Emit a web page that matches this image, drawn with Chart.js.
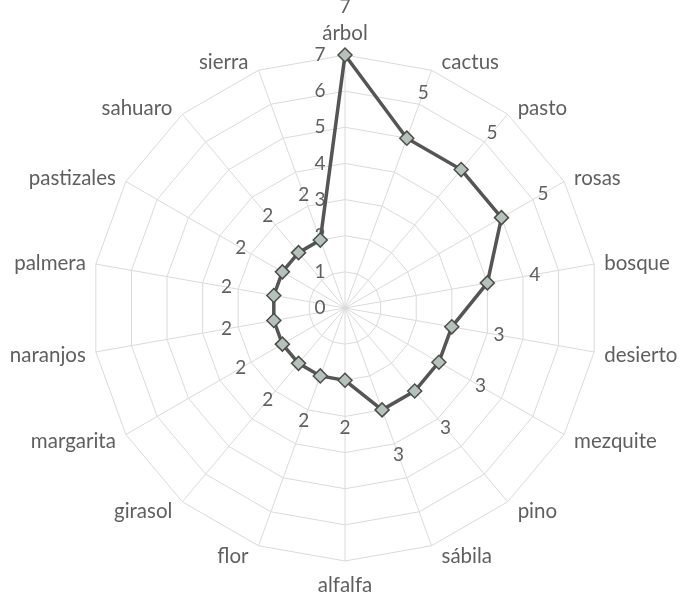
<!DOCTYPE html>
<html>
<head>
<meta charset="utf-8">
<script src="https://cdn.jsdelivr.net/npm/chart.js@4"></script>
<style>
  html, body { margin: 0; padding: 0; background: #fff; }
  #wrap { width: 680px; height: 598px; }
</style>
</head>
<body>
<div id="wrap"><canvas id="chart"></canvas></div>
<script>
const categorias = ['árbol', 'cactus', 'pasto', 'rosas', 'bosque', 'desierto', 'mezquite', 'pino', 'sábila',
  'alfalfa', 'flor', 'girasol', 'margarita', 'naranjos', 'palmera', 'pastizales', 'sahuaro', 'sierra'];
const valores = [7, 5, 5, 5, 4, 3, 3, 3, 3, 2, 2, 2, 2, 2, 2, 2, 2, 2];
const ticks = [0, 1, 2, 3, 4, 5, 6, 7];

const fuente = 'Lato, "Open Sans", sans-serif';
const gris = '#5f5f5f';

// numeros del eje, a la izquierda del eje vertical
const tickLabels = {
  id: 'tickLabels',
  beforeDatasetsDraw(chart) {
    const s = chart.scales.r;
    const ctx = chart.ctx;
    ctx.save();
    ctx.font = '19px ' + fuente;
    ctx.fillStyle = gris;
    ctx.textAlign = 'center';
    ctx.textBaseline = 'middle';
    ticks.forEach(t => {
      const d = s.getDistanceFromCenterForValue(t);
      ctx.fillText(String(t), s.xCenter - 25, s.yCenter - d);
    });
    ctx.restore();
  }
};

// nombres de las categorias, centrados junto al vertice (estilo Excel)
const catLabels = {
  id: 'catLabels',
  beforeDatasetsDraw(chart) {
    const s = chart.scales.r;
    const ctx = chart.ctx;
    ctx.save();
    ctx.font = '20.5px ' + fuente;
    ctx.fillStyle = gris;
    ctx.textBaseline = 'middle';
    categorias.forEach((c, i) => {
      const v = s.getPointPosition(i, s.drawingArea);
      const ang = s.getIndexAngle(i);
      const sn = Math.sin(ang), cs = Math.cos(ang);
      let x = v.x, y = v.y;
      if (Math.abs(sn) < 0.01) {
        ctx.textAlign = 'center';
        y += cs > 0 ? -22 : 24;
      } else {
        ctx.textAlign = sn > 0 ? 'left' : 'right';
        x += sn > 0 ? 10 : -10;
        y += -cs * 10 + 1.5;
      }
      ctx.fillText(c, x, y);
    });
    ctx.restore();
  }
};

// etiquetas de datos, hacia afuera de cada punto
const dataLabels = {
  id: 'dataLabels',
  afterDatasetsDraw(chart) {
    const s = chart.scales.r;
    const ctx = chart.ctx;
    ctx.save();
    ctx.font = '19px ' + fuente;
    ctx.fillStyle = gris;
    ctx.textAlign = 'center';
    ctx.textBaseline = 'middle';
    valores.forEach((v, i) => {
      const p = s.getPointPosition(i, s.getDistanceFromCenterForValue(v) + 48);
      ctx.fillText(String(v), p.x, p.y);
    });
    ctx.restore();
  }
};

new Chart(document.getElementById('chart'), {
  type: 'radar',
  data: {
    labels: categorias,
    datasets: [{
      data: valores,
      borderColor: '#555555',
      borderWidth: 3.5,
      fill: false,
      pointStyle: 'rectRot',
      pointRadius: 7,
      pointBackgroundColor: '#b5c2ba',
      pointBorderColor: '#4d4d4d',
      pointBorderWidth: 1.5
    }]
  },
  options: {
    responsive: true,
    maintainAspectRatio: false,
    animation: false,
    layout: { padding: { left: 92, right: 82, top: 55, bottom: 37 } },
    plugins: { legend: { display: false }, tooltip: { enabled: false } },
    scales: {
      r: {
        min: 0,
        max: 7,
        ticks: { display: false, stepSize: 1 },
        grid: { color: '#dadada', lineWidth: 1 },
        angleLines: { color: '#dadada', lineWidth: 1 },
        pointLabels: { display: false }
      }
    }
  },
  plugins: [tickLabels, catLabels, dataLabels]
});
</script>
</body>
</html>
